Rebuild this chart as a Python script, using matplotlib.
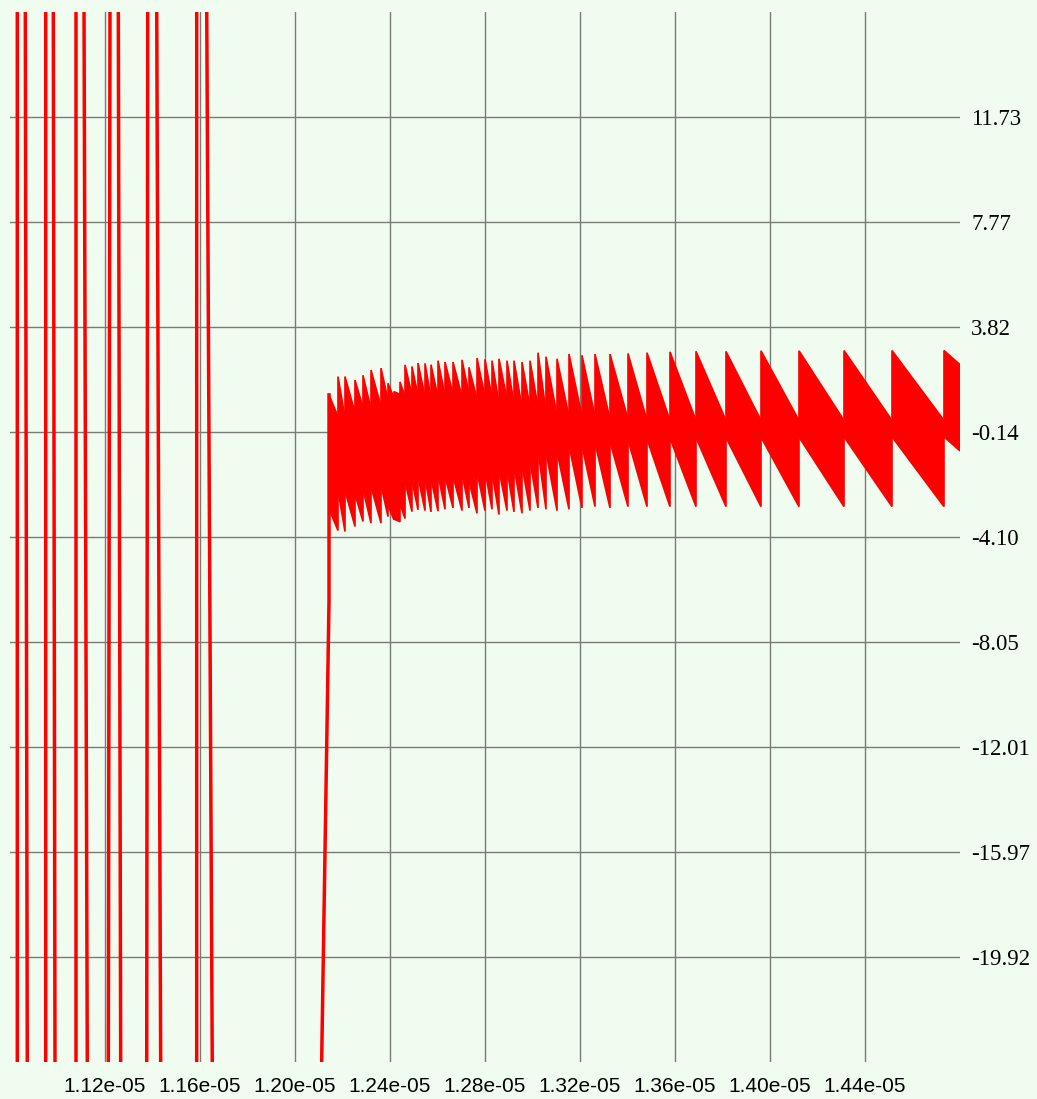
import numpy as np
import matplotlib
matplotlib.use('Agg')
import matplotlib.pyplot as plt

# off-scale excursions before the signal settles (time in units of 1e-05 s)
spike_t = [1.08307, 1.08307, 1.08644, 1.08728,
	1.09503, 1.09503, 1.09823, 1.09895,
	1.10779, 1.10779, 1.11116, 1.11255,
	1.12139, 1.12211, 1.12560, 1.12661,
	1.13756, 1.13798, 1.14177, 1.14345,
	1.15861, 1.15861, 1.16282, 1.16518,
	1.21116, 1.21432, 1.21432]
spike_v = [-24.2, 16.0, 16.0, -24.2,
	-24.2, 16.0, 16.0, -24.2,
	-24.2, 16.0, 16.0, -24.2,
	-24.2, 16.0, 16.0, -24.2,
	-24.2, 16.0, 16.0, -24.2,
	-24.2, 16.0, 16.0, -24.2,
	-24.2, -6.5, 1.26]

# ringing teeth: start time, peak at the start, trough at the end,
# and the width of the fast-oscillation band inside each tooth
tooth_t = [1.21432, 1.21810, 1.22105, 1.22526, 1.22863, 1.23200, 1.23621, 1.23916,
	1.24168, 1.24421, 1.24632, 1.24926, 1.25179, 1.25474, 1.25726, 1.26021,
	1.26316, 1.26653, 1.27032, 1.27326, 1.27663, 1.28000, 1.28295, 1.28589,
	1.28926, 1.29221, 1.29558, 1.29895, 1.30232, 1.30568, 1.31032, 1.31537,
	1.32084, 1.32632, 1.33263, 1.34021, 1.34821, 1.35789, 1.36884, 1.38147,
	1.39621, 1.41221, 1.43116, 1.45137, 1.47326]
tooth_end = 1.4800
tooth_peak = [1.26, 1.95, 1.95, 1.82, 2.00, 2.20, 2.27, 1.70,
	1.38, 1.75, 2.39, 2.33, 2.46, 2.45, 2.40, 2.55,
	2.50, 2.50, 2.58, 2.30, 2.65, 2.60, 2.55, 2.62,
	2.55, 2.55, 2.50, 2.55, 2.85, 2.70, 2.62, 2.80,
	2.75, 2.80, 2.80, 2.82, 2.85, 2.88, 2.90, 2.90,
	2.92, 2.92, 2.93, 2.93, 2.93]
tooth_trough = [-3.85, -3.89, -3.70, -3.51, -3.57, -3.57, -3.33, -3.45,
	-3.52, -3.40, -3.14, -3.07, -3.10, -3.15, -3.12, -3.05,
	-3.00, -3.10, -3.00, -3.20, -3.10, -3.05, -3.25, -3.10,
	-3.15, -3.20, -3.10, -3.00, -3.05, -3.10, -3.05, -3.00,
	-2.95, -3.00, -2.95, -2.95, -2.95, -2.95, -2.95, -2.95,
	-2.95, -2.95, -2.95, -2.95, -0.85]
tooth_band = [4.3, 4.3, 4.3, 4.3, 4.3, 4.4, 4.4, 4.6,
	4.8, 4.6, 4.4, 4.3, 4.3, 4.3, 4.3, 4.3,
	4.3, 4.3, 4.3, 4.3, 4.3, 4.2, 4.2, 4.2,
	4.1, 4.0, 3.9, 3.8, 3.7, 3.6, 3.5, 3.45,
	3.4, 3.35, 3.3, 3.25, 3.25, 3.25, 3.25, 3.25,
	3.25, 3.25, 3.25, 3.25, 3.25]

x_ticks = [1.12e-05, 1.16e-05, 1.20e-05, 1.24e-05, 1.28e-05, 1.32e-05, 1.36e-05, 1.40e-05, 1.44e-05]
x_labels = ['1.12e-05', '1.16e-05', '1.20e-05', '1.24e-05', '1.28e-05', '1.32e-05', '1.36e-05', '1.40e-05', '1.44e-05']
y_ticks = [11.73, 7.77, 3.82, -0.14, -4.10, -8.05, -12.01, -15.97, -19.92]
y_labels = ['11.73', '7.77', '3.82', '-0.14', '-4.10', '-8.05', '-12.01', '-15.97', '-19.92']

bg = '#f0fcf0'
red = '#ff0000'

fig = plt.figure(figsize=(10.37, 10.99), dpi=100, facecolor=bg)
ax = fig.add_axes([10/1037, 37/1099, 950/1037, 1050/1099])
ax.set_facecolor(bg)

ax.plot(np.array(spike_t)*1e-5, spike_v, color=red, lw=2.5, solid_joinstyle='miter')

starts = np.array(tooth_t)*1e-5
ends = np.append(starts[1:], tooth_end*1e-5)
for t0, t1, pk, tr, bw in zip(starts, ends, tooth_peak, tooth_trough, tooth_band):
	ax.fill([t0, t1, t1, t0], [pk, tr + bw, tr, pk - bw],
		facecolor=red, edgecolor=red, lw=1.2)

ax.set_xlim(1.08e-05, 1.48e-05)
ax.set_ylim(-23.876, 15.686)
ax.set_xticks(x_ticks)
ax.set_xticklabels(x_labels, fontfamily='Liberation Sans', fontsize=15)
ax.set_yticks(y_ticks)
ax.set_yticklabels(y_labels, fontfamily='Liberation Serif', fontsize=16.5)
ax.yaxis.tick_right()
ax.tick_params(axis='both', length=0)
ax.tick_params(axis='x', pad=11)
ax.tick_params(axis='y', pad=8)
ax.grid(True, color='#777c77', lw=1.0)
ax.set_axisbelow(True)
for s in ax.spines.values():
	s.set_visible(False)

plt.savefig('out.png', dpi=100, facecolor=bg)
